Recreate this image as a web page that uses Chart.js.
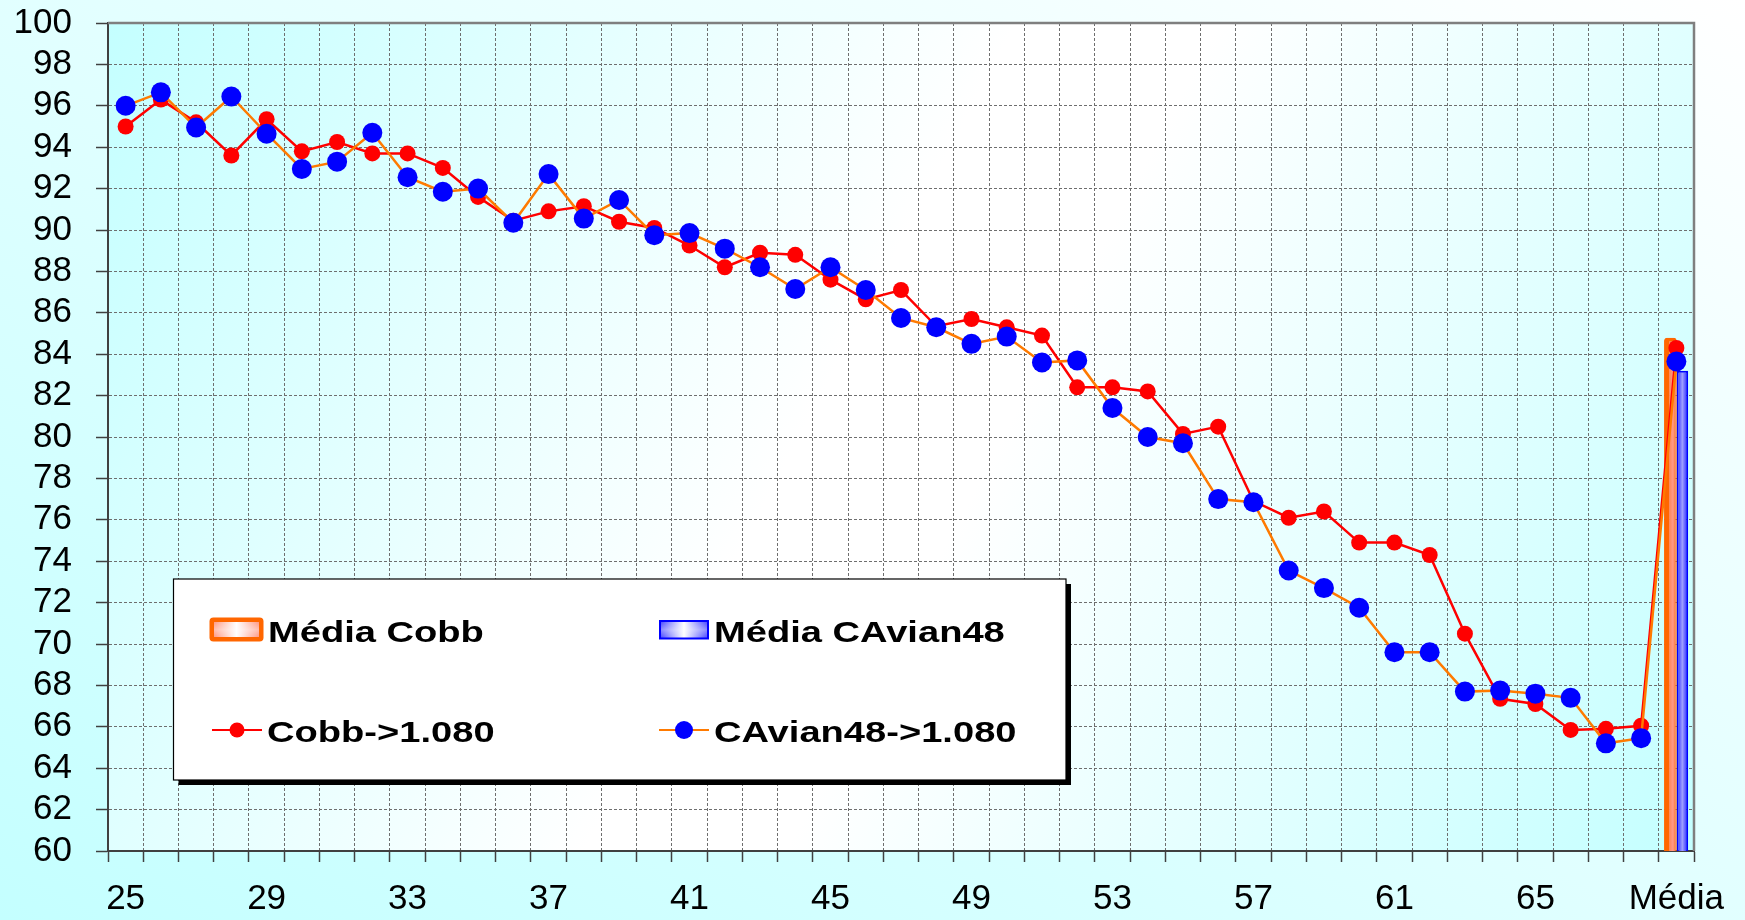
<!DOCTYPE html>
<html lang="pt">
<head>
<meta charset="utf-8">
<title>Cobb x CAvian48 - 1.080</title>
<script src="https://cdn.jsdelivr.net/npm/chart.js@4.4.1/dist/chart.umd.min.js"></script>
<style>
  html, body { margin: 0; padding: 0; }
  body {
    width: 1745px; height: 920px; overflow: hidden;
    background: linear-gradient(to top right, #c4ffff 0%, #ffffff 100%);
  }
  #wrap { position: relative; width: 1745px; height: 920px; }
  canvas { display: block; }
</style>
</head>
<body>
<div id="wrap"><canvas id="chart" width="1745" height="920"></canvas></div>
<script>
// Idades (dias) e a média final
const categories = ['25','26','27','28','29','30','31','32','33','34','35','36','37','38','39','40',
  '41','42','43','44','45','46','47','48','49','50','51','52','53','54','55','56','57','58','59','60',
  '61','62','63','64','65','66','67','68','Média'];

// Rótulos exibidos no eixo X
const shownXLabels = ['25','29','33','37','41','45','49','53','57','61','65','Média'];

// Cobb -> 1.080
const cobb = [95.0, 96.3, 95.2, 93.6, 95.35, 93.8, 94.25, 93.7, 93.7, 93.0,
  91.6, 90.45, 90.9, 91.15, 90.4, 90.1, 89.25, 88.2, 88.9, 88.8,
  87.6, 86.65, 87.1, 85.35, 85.7, 85.3, 84.9, 82.4, 82.4, 82.2,
  80.15, 80.5, 76.9, 76.1, 76.4, 74.9, 74.9, 74.3, 70.5, 67.35,
  67.1, 65.85, 65.9, 66.05, 84.3];

// CAvian48 -> 1.080
const cavian48 = [96.0, 96.65, 94.95, 96.45, 94.65, 92.95, 93.3, 94.7, 92.55, 91.85,
  92.0, 90.35, 92.7, 90.55, 91.45, 89.75, 89.85, 89.1, 88.2, 87.15,
  88.2, 87.1, 85.75, 85.3, 84.5, 84.85, 83.6, 83.7, 81.4, 80.0,
  79.7, 77.0, 76.85, 73.55, 72.7, 71.75, 69.6, 69.6, 67.7, 67.75,
  67.6, 67.4, 65.2, 65.45, 83.65];

// Médias (barras)
const mediaCobb = 84.8;
const mediaCAvian48 = 83.2;

// Eixo Y
const yMin = 60, yMax = 100, yStep = 2;

const FONT = "'Liberation Sans', Arial, Helvetica, sans-serif";

// Preenchimento em faixa vertical (borda escura, centro claro) para as barras
function stripeFill(edge, middle, mid) {
  return (c) => {
    if (c.type !== 'data') return edge;
    const el = c.chart.getDatasetMeta(c.datasetIndex).data[c.dataIndex];
    if (!el || !el.width || !isFinite(el.x)) return edge;
    const g = c.chart.ctx.createLinearGradient(el.x - el.width / 2, 0, el.x + el.width / 2, 0);
    g.addColorStop(0, edge);
    g.addColorStop(mid, middle);
    g.addColorStop(1, edge);
    return g;
  };
}

// Fundo em degradê da área de plotagem
const plotBackground = {
  id: 'plotBackground',
  beforeDraw(chart) {
    const { ctx, chartArea: a } = chart;
    const g = ctx.createLinearGradient(a.left, a.top, a.right, a.bottom);
    g.addColorStop(0, '#c4ffff');
    g.addColorStop(0.45, '#ffffff');
    g.addColorStop(0.55, '#ffffff');
    g.addColorStop(1, '#c4ffff');
    ctx.save();
    ctx.fillStyle = g;
    ctx.fillRect(a.left, a.top, a.right - a.left, a.bottom - a.top);
    ctx.restore();
  }
};

// Moldura superior e direita da área de plotagem
const plotFrame = {
  id: 'plotFrame',
  beforeDatasetsDraw(chart) {
    const { ctx, chartArea: a } = chart;
    ctx.save();
    ctx.strokeStyle = '#7f7f7f';
    ctx.lineWidth = 2.5;
    ctx.beginPath();
    ctx.moveTo(a.left, a.top);
    ctx.lineTo(a.right, a.top);
    ctx.lineTo(a.right, a.bottom);
    ctx.stroke();
    ctx.restore();
  }
};

// Legenda em caixa com sombra, dentro da área do gráfico
const boxLegend = {
  id: 'boxLegend',
  afterDatasetsDraw(chart, args, o) {
    const ctx = chart.ctx;
    const ds = chart.data.datasets;
    const b = o.box;
    ctx.save();
    // sombra
    ctx.fillStyle = '#000000';
    ctx.fillRect(b.left + o.shadow, b.top + o.shadow, b.right - b.left, b.bottom - b.top);
    // caixa
    ctx.fillStyle = '#ffffff';
    ctx.fillRect(b.left, b.top, b.right - b.left, b.bottom - b.top);
    ctx.strokeStyle = '#000000';
    ctx.lineWidth = 1.2;
    ctx.strokeRect(b.left, b.top, b.right - b.left, b.bottom - b.top);

    o.items.forEach((it) => {
      const d = ds[it.dataset];
      if (it.kind === 'bar') {
        const s = it.swatch;
        const w = s.x1 - s.x0, h = s.y1 - s.y0;
        ctx.fillStyle = it.edge;
        ctx.beginPath();
        ctx.roundRect(s.x0, s.y0, w, h, it.radius);
        ctx.fill();
        const ins = it.inset;
        const gi = ctx.createLinearGradient(s.x0 + ins, 0, s.x1 - ins, 0);
        gi.addColorStop(0, it.inner0);
        gi.addColorStop(0.5, '#ffffff');
        gi.addColorStop(1, it.inner0);
        ctx.fillStyle = gi;
        ctx.fillRect(s.x0 + ins, s.y0 + ins, w - 2 * ins, h - 2 * ins);
        const gv = ctx.createLinearGradient(0, s.y0 + ins, 0, s.y1 - ins);
        gv.addColorStop(0, 'rgba(255,255,255,0)');
        gv.addColorStop(0.5, 'rgba(255,255,255,0.35)');
        gv.addColorStop(1, 'rgba(255,255,255,0)');
        ctx.fillStyle = gv;
        ctx.fillRect(s.x0 + ins, s.y0 + ins, w - 2 * ins, h - 2 * ins);
      } else {
        const s = it.swatch;
        ctx.strokeStyle = d.borderColor;
        ctx.lineWidth = 2;
        ctx.beginPath();
        ctx.moveTo(s.x0, s.y);
        ctx.lineTo(s.x1, s.y);
        ctx.stroke();
        ctx.fillStyle = d.pointBackgroundColor;
        ctx.beginPath();
        ctx.arc((s.x0 + s.x1) / 2, s.y, it.r, 0, Math.PI * 2);
        ctx.fill();
      }
      ctx.save();
      ctx.translate(it.textX, it.baseline);
      ctx.scale(o.textScaleX, 1);
      ctx.fillStyle = '#000000';
      ctx.font = 'bold ' + o.fontSize + 'px ' + FONT;
      ctx.textBaseline = 'alphabetic';
      ctx.textAlign = 'left';
      ctx.fillText(d.label, 0, 0);
      ctx.restore();
    });
    ctx.restore();
  }
};

const chart = new Chart(document.getElementById('chart'), {
  type: 'bar',
  data: {
    labels: categories,
    datasets: [
      {
        type: 'bar',
        label: 'Média Cobb',
        data: [{ x: 'Média', y: mediaCobb }],
        backgroundColor: stripeFill('#ff6a10', '#ff9a88', 0.7),
        borderColor: '#ff6600',
        borderWidth: { left: 5, top: 4, right: 1, bottom: 0 },
        borderRadius: { topLeft: 3, topRight: 3 },
        categoryPercentage: 0.68,
        barPercentage: 1.06,
        order: 3
      },
      {
        type: 'bar',
        label: 'Média CAvian48',
        data: [{ x: 'Média', y: mediaCAvian48 }],
        backgroundColor: stripeFill('#1a1aff', '#a0a0ff', 0.5),
        borderColor: '#0000ff',
        borderWidth: 2,
        categoryPercentage: 0.68,
        barPercentage: 0.97,
        order: 3
      },
      {
        type: 'line',
        label: 'Cobb->1.080',
        data: cobb,
        borderColor: '#ff0000',
        borderWidth: 2.5,
        pointBackgroundColor: '#ff0000',
        pointBorderColor: '#ff0000',
        pointBorderWidth: 0,
        pointRadius: 8,
        tension: 0,
        order: 2
      },
      {
        type: 'line',
        label: 'CAvian48->1.080',
        data: cavian48,
        borderColor: '#ff7a00',
        borderWidth: 2.5,
        pointBackgroundColor: '#0000ff',
        pointBorderColor: '#0000ff',
        pointBorderWidth: 0,
        pointRadius: 10,
        tension: 0,
        order: 1
      }
    ]
  },
  options: {
    responsive: false,
    animation: false,
    events: [],
    layout: { padding: { left: 0, top: 23, right: 51, bottom: 0 } },
    plugins: {
      legend: { display: false },
      tooltip: { enabled: false },
      boxLegend: {
        box: { left: 173.5, top: 579, right: 1066, bottom: 780 },
        shadow: 5,
        fontSize: 30,
        textScaleX: 1.27,
        items: [
          { dataset: 0, kind: 'bar', swatch: { x0: 209.5, y0: 617.5, x1: 263.5, y1: 641.5 },
            edge: '#ff6600', inner0: '#ff9a86', inset: 4.5, radius: 4, textX: 268, baseline: 641.5 },
          { dataset: 1, kind: 'bar', swatch: { x0: 659, y0: 620, x1: 709, y1: 639.5 },
            edge: '#0000ff', inner0: '#5050ff', inset: 2, radius: 0, textX: 714, baseline: 641.5 },
          { dataset: 2, kind: 'line', swatch: { x0: 212, x1: 262, y: 730 }, r: 7.5,
            textX: 267, baseline: 741.5 },
          { dataset: 3, kind: 'line', swatch: { x0: 659, x1: 709, y: 730 }, r: 9,
            textX: 714, baseline: 741.5 }
        ]
      }
    },
    scales: {
      x: {
        type: 'category',
        offset: true,
        grid: {
          offset: true,
          color: '#6e6e6e',
          lineWidth: 1,
          tickLength: 11,
          tickColor: '#404040',
          tickWidth: 1.5,
          tickBorderDash: []
        },
        border: { color: '#404040', width: 2, dash: [3, 2] },
        ticks: {
          autoSkip: false,
          maxRotation: 0,
          minRotation: 0,
          padding: 16,
          color: '#000000',
          font: { family: FONT, size: 35 },
          callback(value, index) {
            const lab = categories[index];
            return shownXLabels.includes(lab) ? lab : '';
          }
        },
        afterFit(s) { s.height = 69; }
      },
      y: {
        min: yMin,
        max: yMax,
        grid: {
          color: '#6e6e6e',
          lineWidth: 1,
          tickLength: 12,
          tickColor: '#404040',
          tickWidth: 1.5,
          tickBorderDash: []
        },
        border: { color: '#404040', width: 2, dash: [3, 2] },
        ticks: {
          autoSkip: false,
          stepSize: yStep,
          padding: 24,
          color: '#000000',
          font: { family: FONT, size: 35 }
        },
        afterFit(s) {
          s.width = 108;
          s.paddingTop = 0;
          s.paddingBottom = 0;
        }
      }
    }
  },
  plugins: [plotBackground, plotFrame, boxLegend]
});
// segunda passagem para que o degradê das barras use a geometria já calculada
chart.update('none');
</script>
</body>
</html>
